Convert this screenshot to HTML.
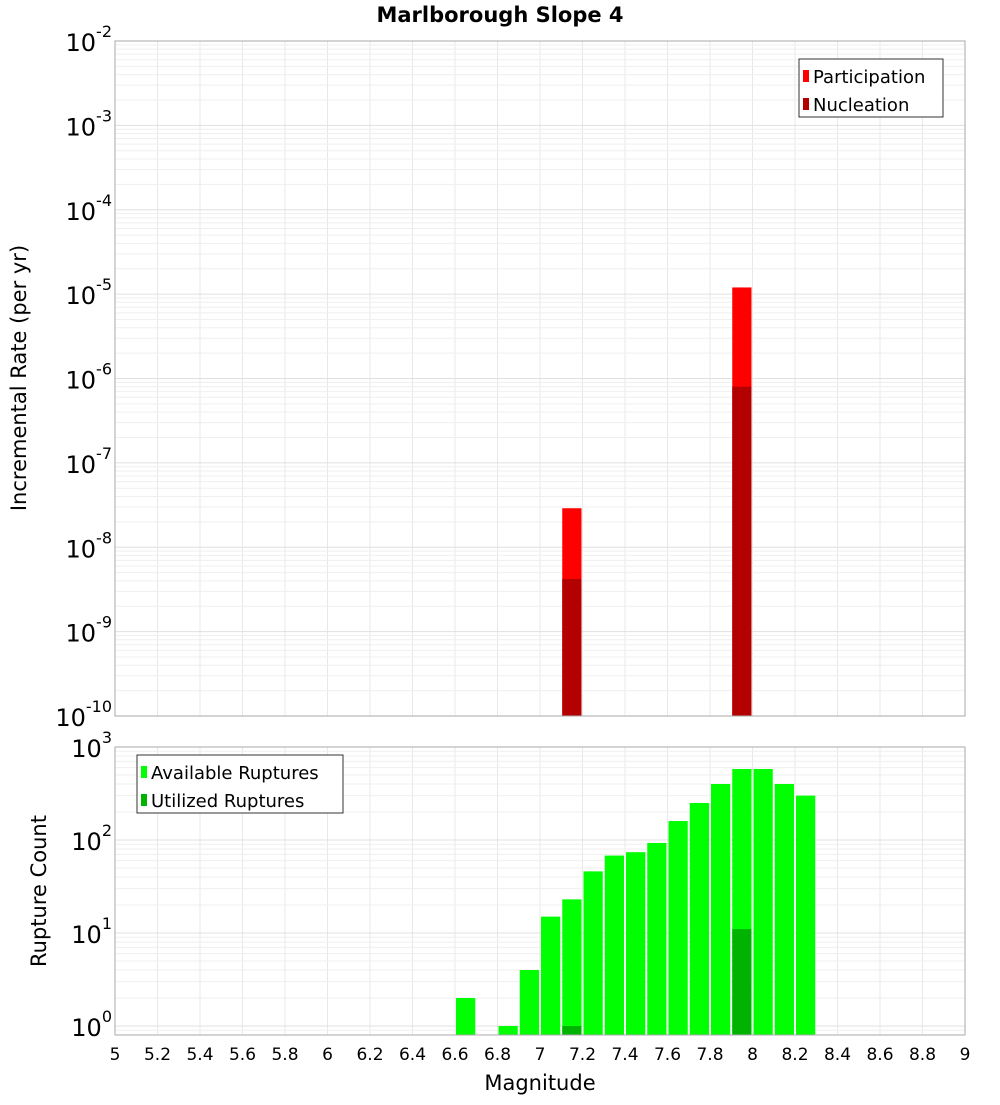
<!DOCTYPE html>
<html><head><meta charset="utf-8"><style>
body{margin:0;background:#fff;}
svg text{font-family:"DejaVu Sans","Liberation Sans",sans-serif;}
</style></head><body>
<svg id="c" width="1000" height="1100" xmlns="http://www.w3.org/2000/svg"></svg>
<script>
const magBins=[6.65,6.75,6.85,6.95,7.05,7.15,7.25,7.35,7.45,7.55,7.65,7.75,7.85,7.95,8.05,8.15,8.25];
const availableCounts=[2,0,1,4,15,23,46,68,74,93,160,250,400,580,580,400,300];
const utilizedCounts=[0,0,0,0,0,1,0,0,0,0,0,0,0,11,0,0,0];
const rateMags=[7.15,7.95];
const participationRates=[2.9e-8,1.2e-5];
const nucleationRates=[4.2e-9,8e-7];
const xTicks=[5,5.2,5.4,5.6,5.8,6,6.2,6.4,6.6,6.8,7,7.2,7.4,7.6,7.8,8,8.2,8.4,8.6,8.8,9];
const topExps=[-2,-3,-4,-5,-6,-7,-8,-9,-10];
const botExps=[0,1,2,3];

const svg=document.getElementById('c');const NS='http://www.w3.org/2000/svg';
function mk(t,a,p){const e=document.createElementNS(NS,t);for(const k in a)e.setAttribute(k,a[k]);(p||svg).appendChild(e);return e;}
const L=115,R=965,T1=41,B1=716,T2=747,B2=1035;
const x=m=>L+(m-5)/4*(R-L);
const y1=v=>T1+(-2-Math.log10(v))*(B1-T1)/8;
const y2=v=>T2+(3-Math.log10(v))*93;

// grids
function grid(top,bot,yf,lo,hi){
  for(const t of xTicks){const l=mk('line',{x1:x(t),x2:x(t),y1:top,y2:bot,stroke:'#e8e8e8','stroke-width':1});
  }
  for(let e=lo;e<hi;e++)for(let k=1;k<10;k++){const yy=yf(k*Math.pow(10,e));if(yy<top-0.5||yy>bot+0.5)continue;
   const l=mk('line',{x1:L,x2:R,y1:yy,y2:yy,stroke:k==1?'#e0e0e0':'#efefef','stroke-width':1});
   }
}
grid(T1,B1,y1,-10,-1);grid(T2,B2,y2,-1,4);

// top bars
const bw=x(5.1)-x(5)-2;
rateMags.forEach((m,i)=>{
  let r=mk('rect',{x:x(m)-bw/2,y:y1(participationRates[i]),width:bw,height:B1-y1(participationRates[i]),fill:'#ff0000'});
  
  r=mk('rect',{x:x(m)-bw/2,y:y1(nucleationRates[i]),width:bw,height:B1-y1(nucleationRates[i]),fill:'#b30000'});
  
});
// bottom bars
magBins.forEach((m,i)=>{
  if(availableCounts[i]>0){const r=mk('rect',{x:x(m)-bw/2,y:y2(availableCounts[i]),width:bw,height:B2-y2(availableCounts[i]),fill:'#00ff00'});
  }
  if(utilizedCounts[i]>0){const r=mk('rect',{x:x(m)-bw/2,y:y2(utilizedCounts[i]),width:bw,height:B2-y2(utilizedCounts[i]),fill:'#00b300'});
  }
});
// frames
let f=mk('rect',{x:L,y:T1,width:R-L,height:B1-T1,fill:'none',stroke:'#aaa'});
f=mk('rect',{x:L,y:T2,width:R-L,height:B2-T2,fill:'none',stroke:'#aaa'});

// y tick labels
function ylab(yy,e,nm){const t=mk('text',{x:112,y:yy+10,'text-anchor':'end','font-size':24});
  
  t.textContent='10';const s=mk('tspan',{dy:-14,'font-size':16},t);s.textContent=e;}
topExps.forEach(e=>ylab(y1(Math.pow(10,e)),e,'y-tick-label'));
botExps.forEach(e=>ylab(y2(Math.pow(10,e)),e,'y-tick-label'));
xTicks.forEach(t=>{const e=mk('text',{x:x(t),y:1060,'text-anchor':'middle','font-size':17});
  e.textContent=String(t);});

// titles
let t=mk('text',{x:500,y:22,'text-anchor':'middle','font-size':21,'font-weight':'bold'});t.textContent='Marlborough Slope 4';
t=mk('text',{x:540,y:1090,'text-anchor':'middle','font-size':21});t.textContent='Magnitude';
t=mk('text',{x:0,y:0,'text-anchor':'middle','font-size':21,transform:'translate(26,378) rotate(-90)'});t.textContent='Incremental Rate (per yr)';
t=mk('text',{x:0,y:0,'text-anchor':'middle','font-size':21,transform:'translate(46,891) rotate(-90)'});t.textContent='Rupture Count';

// legends
function legend(lx,ly,w,items,nm){const g=mk('g',{});
  mk('rect',{x:lx,y:ly,width:w,height:58,fill:'#fff',stroke:'#333'},g);
  items.forEach((it,i)=>{const r=mk('rect',{x:lx+4,y:ly+11+i*28,width:6,height:12,fill:it[1]},g);
    
    const tx=mk('text',{x:lx+14,y:ly+24+i*28,'font-size':18},g);tx.textContent=it[0];
    });}
legend(799,59,144,[['Participation','#ff0000'],['Nucleation','#b30000']],'top-legend');
legend(137,755,206,[['Available Ruptures','#00ff00'],['Utilized Ruptures','#00b300']],'bottom-legend');
</script>
</body></html>
